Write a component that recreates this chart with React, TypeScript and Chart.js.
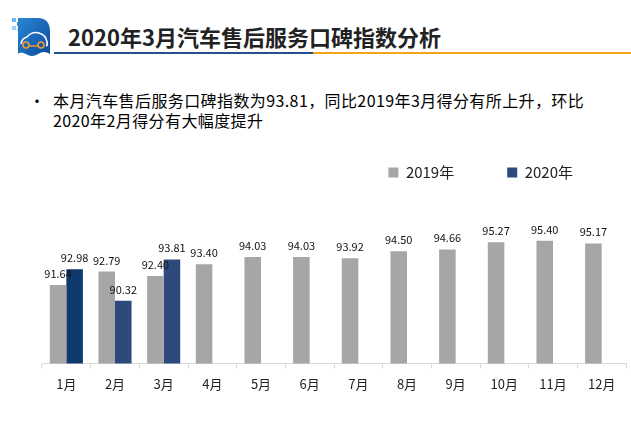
import React, { useEffect, useRef } from "react";
import { Chart, registerables } from "chart.js";

Chart.register(...registerables);

const months = ["1月", "2月", "3月", "4月", "5月", "6月", "7月", "8月", "9月", "10月", "11月", "12月"];
const values2019 = [91.64, 92.79, 92.4, 93.4, 94.03, 94.03, 93.92, 94.5, 94.66, 95.27, 95.4, 95.17];
const values2020 = [92.98, 90.32, 93.81, null, null, null, null, null, null, null, null, null];
const seriesNames = ["2019年", "2020年"];
const color2019 = "#a6a6a6";
const colors2020 = ["#0f3a6e", "#2e4a7d", "#2e4a7d"];
const legend2020 = "#2e4a7d";

const FONT = "'Noto Sans CJK SC', 'Noto Sans', sans-serif";

const valueLabels = {
  id: "valueLabels",
  afterDatasetsDraw(chart: any) {
    const ctx = chart.ctx;
    ctx.save();
    ctx.font = `11px ${FONT}`;
    ctx.fillStyle = "#111";
    ctx.textAlign = "center";
    ctx.textBaseline = "alphabetic";
    chart.data.datasets.forEach((ds: any, di: number) => {
      const meta = chart.getDatasetMeta(di);
      meta.data.forEach((el: any, i: number) => {
        const v = ds.data[i];
        if (v === null || v === undefined) return;
        ctx.fillText(Number(v).toFixed(2), el.x, el.y - 7);
      });
    });
    ctx.restore();
  },
};

function Logo() {
  return (
    <svg width="46" height="46" viewBox="0 0 46 46" style={{ position: "absolute", left: 6, top: 14 }}>
      <defs>
        <linearGradient id="lg" x1="0" y1="0" x2="1" y2="1">
          <stop offset="0" stopColor="#2a86d6" />
          <stop offset="1" stopColor="#0c4a9c" />
        </linearGradient>
      </defs>
      <rect x="6" y="4" width="4" height="4" fill="#6fb6ee" />
      <rect x="11" y="8" width="4" height="4" fill="#3d8fdb" />
      <rect x="6" y="12" width="4" height="4" fill="#9fd0f5" />
      <rect x="11" y="14" width="3" height="3" fill="#bfe0f8" />
      <path d="M12 4 H32 Q44 4 44 18 V40 Q38 36 32 40 Q26 44 20 40 Q14 37 12 40 Z" fill="url(#lg)" />
      <path d="M15 30 Q16 24 21 23 Q26 17 33 19 Q40 21 41 28 Q42 31 40 32" stroke="#ffffff" strokeWidth="1.6" fill="none" />
      <circle cx="20" cy="31" r="3" stroke="#f39a2b" strokeWidth="1.6" fill="none" />
      <circle cx="35" cy="31" r="3" stroke="#f39a2b" strokeWidth="1.6" fill="none" />
      <line x1="23" y1="32" x2="32" y2="32" stroke="#f39a2b" strokeWidth="1.4" />
    </svg>
  );
}

export default function App() {
  const canvasRef = useRef<HTMLCanvasElement | null>(null);

  useEffect(() => {
    const canvas = canvasRef.current;
    if (!canvas) return;
    const chart = new Chart(canvas, {
      type: "bar",
      data: {
        labels: months,
        datasets: [
          {
            label: seriesNames[0],
            data: values2019,
            backgroundColor: color2019,
            borderWidth: 0,
          },
          {
            label: seriesNames[1],
            data: values2020 as any,
            backgroundColor: colors2020,
            borderWidth: 0,
          },
        ],
      },
      options: {
        responsive: false,
        animation: false,
        devicePixelRatio: 1,
        datasets: {
          bar: {
            categoryPercentage: 0.68,
            barPercentage: 1,
          },
        },
        layout: {
          padding: { left: 42, right: 5, top: 0, bottom: 23 },
        },
        plugins: {
          tooltip: { enabled: false },
          legend: {
            display: true,
            position: "top",
            align: "end",
            labels: {
              boxWidth: 10,
              boxHeight: 10,
              padding: 53,
              color: "#222",
              font: { family: FONT, size: 15 },
              generateLabels: (c: any) => {
                const items = Chart.defaults.plugins.legend.labels.generateLabels(c);
                return items.map((it: any, i: number) => ({
                  ...it,
                  fillStyle: i === 0 ? color2019 : legend2020,
                  strokeStyle: i === 0 ? color2019 : legend2020,
                  lineWidth: 0,
                }));
              },
            },
          },
        },
        scales: {
          x: {
            offset: true,
            grid: {
              display: true,
              offset: true,
              drawOnChartArea: false,
              drawTicks: true,
              tickLength: 5,
              color: "#d9d9d9",
            },
            border: { display: true, color: "#d9d9d9", width: 1 },
            ticks: {
              color: "#222",
              padding: 8,
              font: { family: FONT, size: 13 },
              maxRotation: 0,
              autoSkip: false,
            },
          },
          y: {
            display: false,
            min: 85,
            max: 99.7,
          },
        },
      },
      plugins: [valueLabels],
    });
    return () => chart.destroy();
  }, []);

  return (
    <div
      style={{
        position: "fixed",
        left: 0,
        top: 0,
        width: 631,
        height: 423,
        background: "#ffffff",
        overflow: "hidden",
        fontFamily: FONT,
      }}
    >
      <Logo />
      <div
        style={{
          position: "absolute",
          left: 68,
          top: 21,
          fontSize: 22,
          lineHeight: "30px",
          fontWeight: 700,
          color: "#222",
          whiteSpace: "nowrap",
        }}
      >
        2020年3月汽车售后服务口碑指数分析
      </div>
      <div style={{ position: "absolute", left: 54, top: 52, width: 259, height: 2, background: "#24528a" }} />
      <div style={{ position: "absolute", left: 313, top: 52, width: 318, height: 2, background: "#f5a31a" }} />
      <div
        style={{
          position: "absolute",
          left: 29,
          top: 90,
          fontSize: 16,
          lineHeight: "20px",
          color: "#000",
        }}
      >
        •
      </div>
      <div
        style={{
          position: "absolute",
          left: 53,
          top: 90,
          fontSize: 16,
          lineHeight: "20px",
          color: "#000",
          whiteSpace: "nowrap",
          letterSpacing: "0.4px",
        }}
      >
        本月汽车售后服务口碑指数为93.81，同比2019年3月得分有所上升，环比
        <br />
        2020年2月得分有大幅度提升
      </div>
      <canvas
        ref={canvasRef}
        width={631}
        height={311}
        style={{ position: "absolute", left: 0, top: 112, width: 631, height: 311 }}
      />
    </div>
  );
}
